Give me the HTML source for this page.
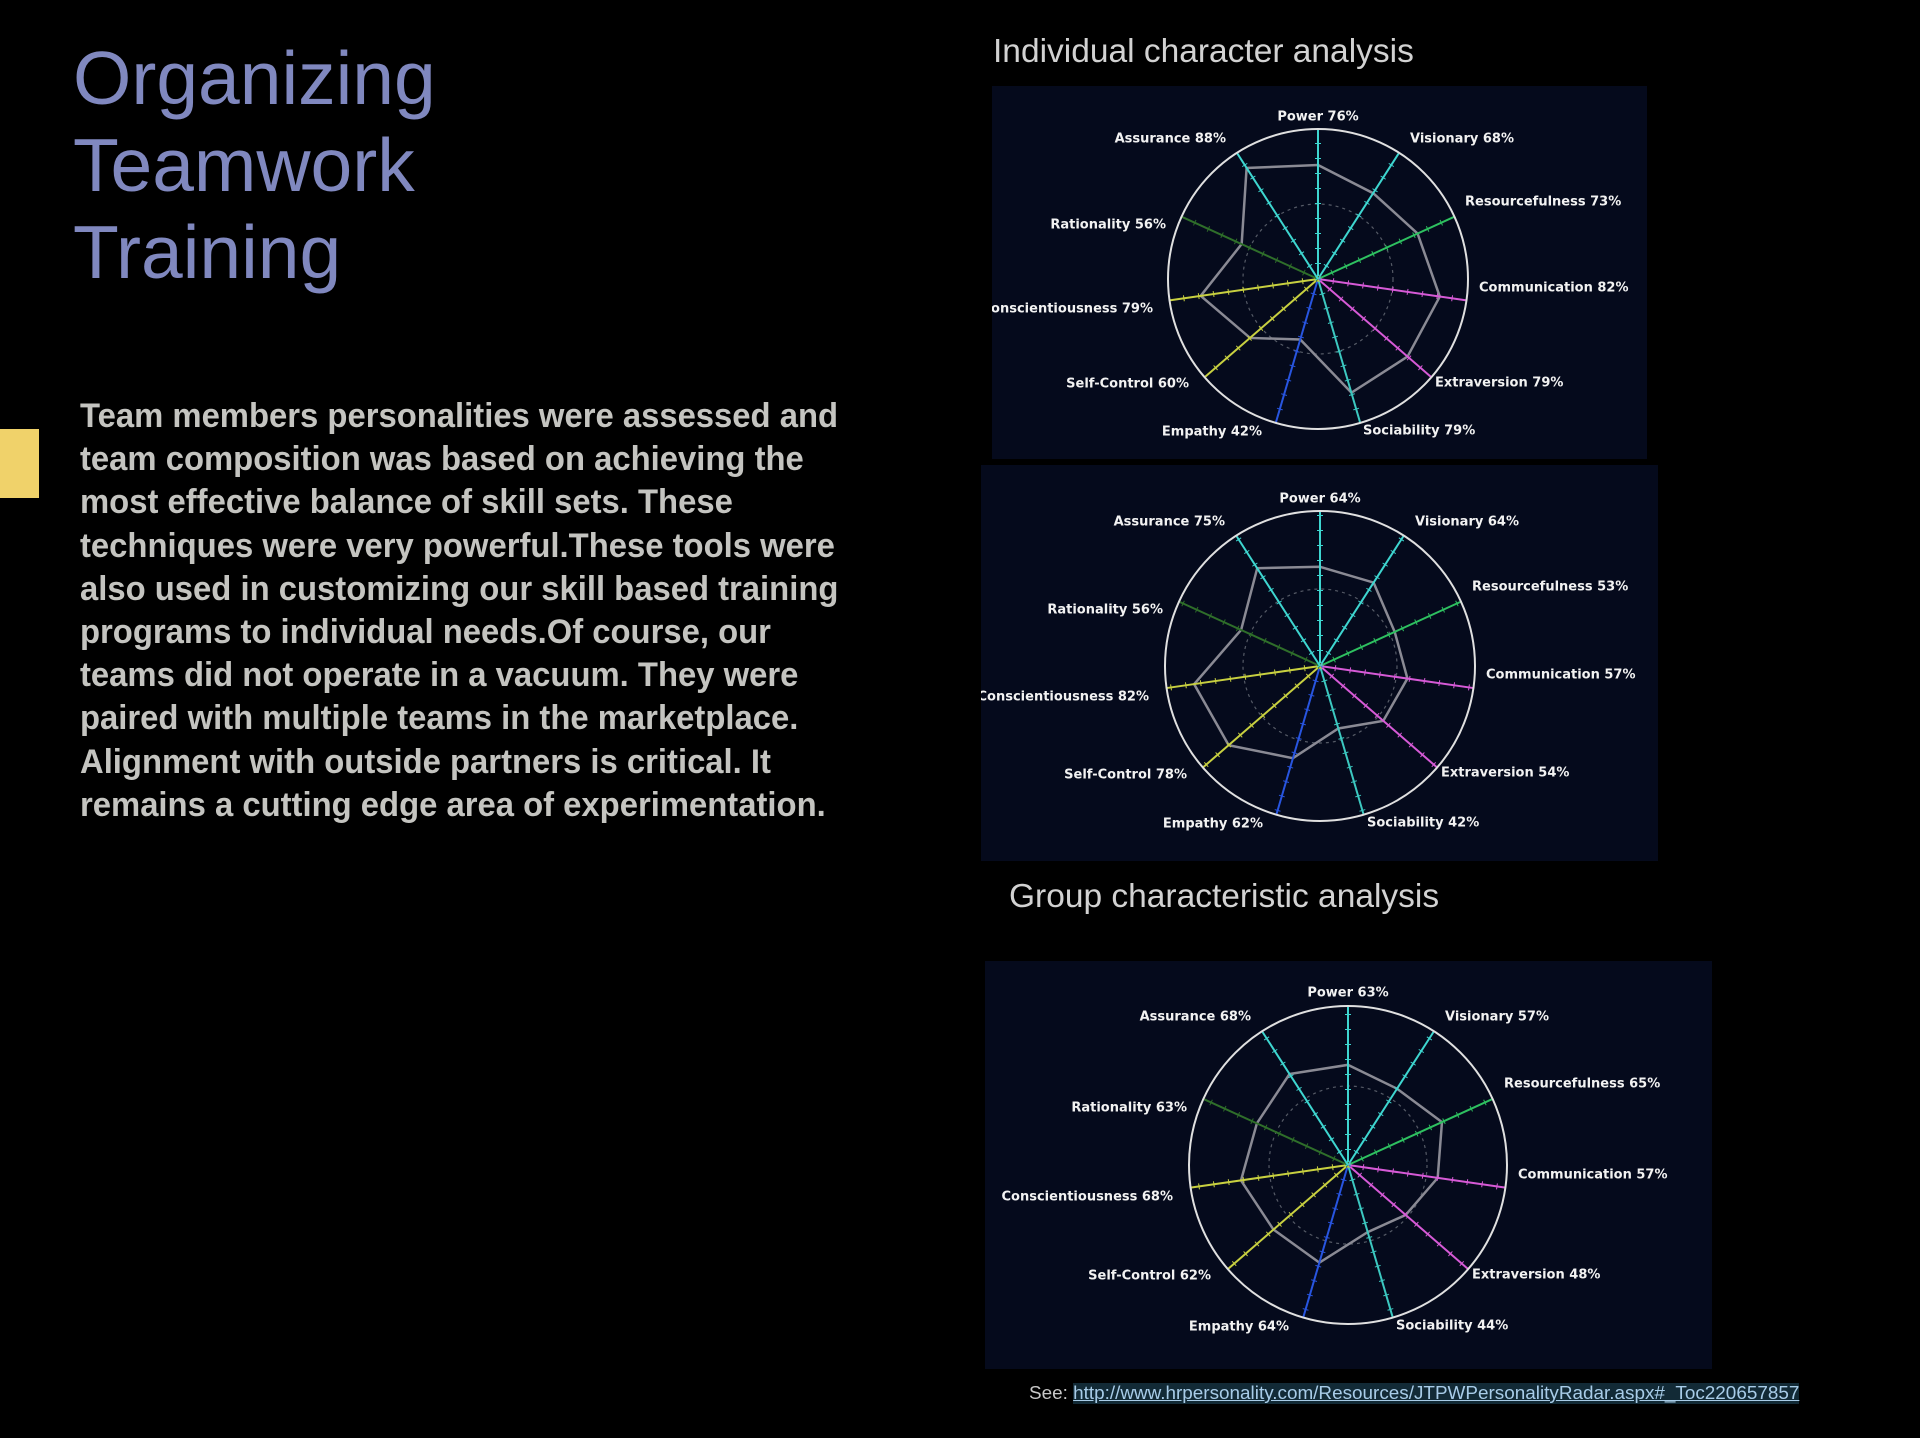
<!DOCTYPE html>
<html><head><meta charset="utf-8"><style>
html,body{margin:0;padding:0;background:#000;}
body{width:1920px;height:1438px;position:relative;overflow:hidden;font-family:"Liberation Sans",sans-serif;}
.t{position:absolute;left:73px;color:#8088bf;font-size:75px;line-height:72px;white-space:nowrap;}
.p{position:absolute;left:80px;top:395px;color:#c4c4c0;font-weight:bold;font-size:34px;line-height:43.2px;white-space:nowrap;transform:scaleX(0.965);transform-origin:0 0;}
.h{position:absolute;color:#d2d2d2;font-size:33.5px;white-space:nowrap;}
.y{position:absolute;left:0;top:429px;width:39px;height:69px;background:#f0d26a;}
.see{position:absolute;left:1029px;top:1383px;font-size:18.9px;color:#c8c8c8;white-space:nowrap;}
.see span{color:#a8cce8;text-decoration:underline;background:#122a36;}
</style></head><body>
<div class="t" style="top:42px">Organizing</div>
<div class="t" style="top:129px">Teamwork</div>
<div class="t" style="top:216px">Training</div>
<div class="y"></div>
<div class="p">Team members personalities were assessed and<br>team composition was based on achieving the<br>most effective balance of skill sets. These<br>techniques were very powerful.These tools were<br>also used in customizing our skill based training<br>programs to individual needs.Of course, our<br>teams did not operate in a vacuum. They were<br>paired with multiple teams in the marketplace.<br>Alignment with outside partners is critical. It<br>remains a cutting edge area of experimentation.</div>
<div class="h" style="left:993px;top:33px">Individual character analysis</div>
<div class="h" style="left:1009px;top:878px">Group characteristic analysis</div>
<div class="see">See: <span>http://www.hrpersonality.com/Resources/JTPWPersonalityRadar.aspx#_Toc220657857</span></div>

<svg width="1920" height="1438" style="position:absolute;left:0;top:0" xmlns="http://www.w3.org/2000/svg">
<defs>
<clipPath id="c1"><rect x="992" y="86" width="655" height="373"/></clipPath>
<clipPath id="c2"><rect x="981" y="465" width="677" height="396"/></clipPath>
<clipPath id="c3"><rect x="985" y="961" width="727" height="408"/></clipPath>
</defs>
<style>
text{font-family:"DejaVu Sans",sans-serif;font-weight:bold;font-size:13px;fill:#f2f2f2;dominant-baseline:central;}
.a{stroke-width:2;}
.k{stroke-width:6;stroke-dasharray:1 14;}
</style>

<!-- Chart 1 -->
<rect x="992" y="86" width="655" height="373" fill="#050a1c"/>
<g clip-path="url(#c1)">
<g transform="translate(1318,279)">
<circle r="75" fill="none" stroke="#555a66" stroke-width="1.2" stroke-dasharray="3 4"/>
<polygon transform="scale(150)" points="0,-.76 .368,-.572 .664,-.303 .812,.117 .597,.517 .223,.758 -.118,.403 -.453,.393 -.782,.112 -.509,-.233 -.476,-.740" fill="none" stroke="#8a8a94" stroke-width="2.5" style="vector-effect:non-scaling-stroke"/>
<g transform="rotate(0)" stroke="#3ed6d0"><line class="a" y2="-150"/><line class="k" y2="-150"/></g>
<g transform="rotate(32.73)" stroke="#3ed6d0"><line class="a" y2="-150"/><line class="k" y2="-150"/></g>
<g transform="rotate(65.45)" stroke="#2ec060"><line class="a" y2="-150"/><line class="k" y2="-150"/></g>
<g transform="rotate(98.18)" stroke="#d65ad6"><line class="a" y2="-150"/><line class="k" y2="-150"/></g>
<g transform="rotate(130.91)" stroke="#d65ad6"><line class="a" y2="-150"/><line class="k" y2="-150"/></g>
<g transform="rotate(163.64)" stroke="#3cc8c0"><line class="a" y2="-150"/><line class="k" y2="-150"/></g>
<g transform="rotate(196.36)" stroke="#2855e0"><line class="a" y2="-150"/><line class="k" y2="-150"/></g>
<g transform="rotate(229.09)" stroke="#c8d040"><line class="a" y2="-150"/><line class="k" y2="-150"/></g>
<g transform="rotate(261.82)" stroke="#c8d040"><line class="a" y2="-150"/><line class="k" y2="-150"/></g>
<g transform="rotate(294.55)" stroke="#2f6e2a"><line class="a" y2="-150"/><line class="k" y2="-150"/></g>
<g transform="rotate(327.27)" stroke="#3ed6d0"><line class="a" y2="-150"/><line class="k" y2="-150"/></g>
<circle r="150" fill="none" stroke="#e0e0e0" stroke-width="2"/>
<text x="0" y="-162" text-anchor="middle">Power 76%</text>
<text x="-92" y="-140" text-anchor="end">Assurance 88%</text>
<text x="92" y="-140">Visionary 68%</text>
<text x="147" y="-77">Resourcefulness 73%</text>
<text x="161" y="9">Communication 82%</text>
<text x="117" y="104">Extraversion 79%</text>
<text x="45" y="152">Sociability 79%</text>
<text x="-56" y="153" text-anchor="end">Empathy 42%</text>
<text x="-129" y="105" text-anchor="end">Self-Control 60%</text>
<text x="-165" y="30" text-anchor="end">Conscientiousness 79%</text>
<text x="-152" y="-54" text-anchor="end">Rationality 56%</text>
</g></g>

<!-- Chart 2 -->
<rect x="981" y="465" width="677" height="396" fill="#050a1c"/>
<g clip-path="url(#c2)">
<g transform="translate(1320,666)">
<circle r="77" fill="none" stroke="#555a66" stroke-width="1.2" stroke-dasharray="3 4"/>
<polygon transform="scale(155)" points="0,-.64 .346,-.538 .482,-.220 .564,.081 .408,.354 .118,.403 -.175,.595 -.589,.511 -.812,.117 -.509,-.233 -.405,-.631" fill="none" stroke="#8a8a94" stroke-width="2.5" style="vector-effect:non-scaling-stroke"/>
<g transform="rotate(0)" stroke="#3ed6d0"><line class="a" y2="-155"/><line class="k" y2="-155"/></g>
<g transform="rotate(32.73)" stroke="#3ed6d0"><line class="a" y2="-155"/><line class="k" y2="-155"/></g>
<g transform="rotate(65.45)" stroke="#2ec060"><line class="a" y2="-155"/><line class="k" y2="-155"/></g>
<g transform="rotate(98.18)" stroke="#d65ad6"><line class="a" y2="-155"/><line class="k" y2="-155"/></g>
<g transform="rotate(130.91)" stroke="#d65ad6"><line class="a" y2="-155"/><line class="k" y2="-155"/></g>
<g transform="rotate(163.64)" stroke="#3cc8c0"><line class="a" y2="-155"/><line class="k" y2="-155"/></g>
<g transform="rotate(196.36)" stroke="#2855e0"><line class="a" y2="-155"/><line class="k" y2="-155"/></g>
<g transform="rotate(229.09)" stroke="#c8d040"><line class="a" y2="-155"/><line class="k" y2="-155"/></g>
<g transform="rotate(261.82)" stroke="#c8d040"><line class="a" y2="-155"/><line class="k" y2="-155"/></g>
<g transform="rotate(294.55)" stroke="#2f6e2a"><line class="a" y2="-155"/><line class="k" y2="-155"/></g>
<g transform="rotate(327.27)" stroke="#3ed6d0"><line class="a" y2="-155"/><line class="k" y2="-155"/></g>
<circle r="155" fill="none" stroke="#e0e0e0" stroke-width="2"/>
<text x="0" y="-167" text-anchor="middle">Power 64%</text>
<text x="-95" y="-144" text-anchor="end">Assurance 75%</text>
<text x="95" y="-144">Visionary 64%</text>
<text x="152" y="-79">Resourcefulness 53%</text>
<text x="166" y="9">Communication 57%</text>
<text x="121" y="107">Extraversion 54%</text>
<text x="47" y="157">Sociability 42%</text>
<text x="-57" y="158" text-anchor="end">Empathy 62%</text>
<text x="-133" y="109" text-anchor="end">Self-Control 78%</text>
<text x="-171" y="31" text-anchor="end">Conscientiousness 82%</text>
<text x="-157" y="-56" text-anchor="end">Rationality 56%</text>
</g></g>

<!-- Chart 3 -->
<rect x="985" y="961" width="727" height="408" fill="#050a1c"/>
<g clip-path="url(#c3)">
<g transform="translate(1348,1165)">
<circle r="79" fill="none" stroke="#555a66" stroke-width="1.2" stroke-dasharray="3 4"/>
<polygon transform="scale(159)" points="0,-.63 .308,-.480 .591,-.270 .564,.081 .363,.314 .124,.422 -.180,.614 -.469,.406 -.673,.097 -.573,-.262 -.368,-.572" fill="none" stroke="#8a8a94" stroke-width="2.5" style="vector-effect:non-scaling-stroke"/>
<g transform="rotate(0)" stroke="#3ed6d0"><line class="a" y2="-159"/><line class="k" y2="-159"/></g>
<g transform="rotate(32.73)" stroke="#3ed6d0"><line class="a" y2="-159"/><line class="k" y2="-159"/></g>
<g transform="rotate(65.45)" stroke="#2ec060"><line class="a" y2="-159"/><line class="k" y2="-159"/></g>
<g transform="rotate(98.18)" stroke="#d65ad6"><line class="a" y2="-159"/><line class="k" y2="-159"/></g>
<g transform="rotate(130.91)" stroke="#d65ad6"><line class="a" y2="-159"/><line class="k" y2="-159"/></g>
<g transform="rotate(163.64)" stroke="#3cc8c0"><line class="a" y2="-159"/><line class="k" y2="-159"/></g>
<g transform="rotate(196.36)" stroke="#2855e0"><line class="a" y2="-159"/><line class="k" y2="-159"/></g>
<g transform="rotate(229.09)" stroke="#c8d040"><line class="a" y2="-159"/><line class="k" y2="-159"/></g>
<g transform="rotate(261.82)" stroke="#c8d040"><line class="a" y2="-159"/><line class="k" y2="-159"/></g>
<g transform="rotate(294.55)" stroke="#2f6e2a"><line class="a" y2="-159"/><line class="k" y2="-159"/></g>
<g transform="rotate(327.27)" stroke="#3ed6d0"><line class="a" y2="-159"/><line class="k" y2="-159"/></g>
<circle r="159" fill="none" stroke="#e0e0e0" stroke-width="2"/>
<text x="0" y="-172" text-anchor="middle">Power 63%</text>
<text x="-97" y="-148" text-anchor="end">Assurance 68%</text>
<text x="97" y="-148">Visionary 57%</text>
<text x="156" y="-81">Resourcefulness 65%</text>
<text x="170" y="10">Communication 57%</text>
<text x="124" y="110">Extraversion 48%</text>
<text x="48" y="161">Sociability 44%</text>
<text x="-59" y="162" text-anchor="end">Empathy 64%</text>
<text x="-137" y="111" text-anchor="end">Self-Control 62%</text>
<text x="-175" y="32" text-anchor="end">Conscientiousness 68%</text>
<text x="-161" y="-57" text-anchor="end">Rationality 63%</text>
</g></g>
</svg>
</body></html>
